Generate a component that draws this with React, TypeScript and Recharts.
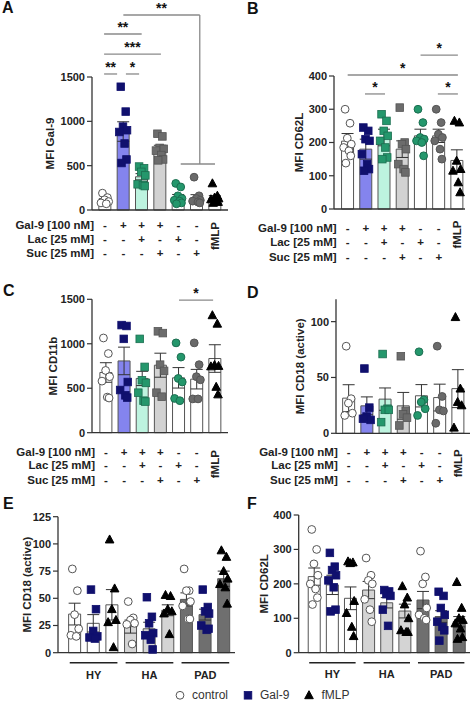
import React from "react";
import { Bar, Cell, ComposedChart, ErrorBar, ReferenceLine, Scatter, XAxis, YAxis } from "recharts";

const FONT = '"Liberation Sans", Arial, Helvetica, sans-serif';
const INK = "#222";

// treatment table under panels A-D
const rowLabels = ["Gal-9 [100 nM]", "Lac [25 mM]", "Suc [25 mM]"];
const gal9Signs = ["-", "+", "+", "+", "-", "-"];
const lacSigns = ["-", "-", "+", "-", "+", "-"];
const sucSigns = ["-", "-", "-", "+", "-", "+"];
const fmlpLabel = "fMLP";
const treatmentTicks = [1, 2, 3, 4, 5, 6, 7];

// A - MFI Gal-9
const gal9Means = [105, 885, 375, 690, 140, 135, 135];
const gal9Sems = [22, 110, 35, 40, 35, 38, 28];
const gal9Points = [
  [190, 140, 115, 95, 80, 70],
  [1390, 1110, 940, 900, 880, 750, 570, 530],
  [490, 470, 430, 390, 290, 280, 270],
  [860, 830, 700, 690, 670, 620, 570, 560],
  [300, 260, 160, 130, 110, 100, 80, 70],
  [370, 160, 130, 110, 100, 90, 80],
  [300, 160, 140, 130, 120, 100, 90, 80],
];
const gal9Stats = [
  { x1: 0.95, x2: 1.66, y1: 1534, y2: 1534, text: "**" },
  { x1: 2.14, x2: 2.86, y1: 1534, y2: 1534, text: "*" },
  { x1: 0.95, x2: 4.05, y1: 1759, y2: 1759, text: "***" },
  { x1: 0.95, x2: 3.0, y1: 1985, y2: 1985, text: "**" },
  { x1: 2.0, x2: 6.17, y1: 2199, y2: 2199, text: "**" },
  { x1: 6.17, x2: 6.17, y1: 2199, y2: 519 },
  { x1: 5.13, x2: 7.0, y1: 519, y2: 519 },
];

// B - MFI CD62L
const cd62lMeans = [204, 180, 215, 180, 220, 220, 146];
const cd62lSems = [23, 30, 25, 25, 20, 20, 32];
const cd62lPoints = [
  [300, 258, 213, 195, 185, 175, 160, 138],
  [245, 235, 210, 205, 165, 135, 120, 115],
  [285, 265, 235, 220, 205, 185, 155, 150],
  [305, 200, 195, 180, 135, 120, 110],
  [300, 260, 215, 210, 205, 200, 160],
  [300, 260, 225, 215, 205, 180, 150],
  [265, 260, 145, 120, 115, 80, 50],
];
const cd62lStats = [
  { x1: 5.0, x2: 7.05, y1: 463, y2: 463, text: "*" },
  { x1: 1.0, x2: 7.05, y1: 403, y2: 403, text: "*" },
  { x1: 1.95, x2: 3.05, y1: 346, y2: 346, text: "*" },
  { x1: 5.95, x2: 7.05, y1: 346, y2: 346, text: "*" },
];

// C - MFI CD11b
const cd11bMeans = [677, 807, 610, 759, 617, 602, 834];
const cd11bSems = [110, 155, 80, 135, 115, 110, 155];
const cd11bPoints = [
  [1065, 890, 700, 630, 580, 400, 390],
  [1210, 1200, 1055, 570, 480, 420, 395],
  [1055, 740, 590, 560, 450, 360, 350],
  [1140, 1120, 765, 695, 450, 405],
  [1010, 850, 610, 570, 385, 360],
  [1010, 765, 630, 595, 380, 380],
  [1320, 1225, 760, 750, 745, 515, 430],
];
const cd11bStats = [{ x1: 5.02, x2: 6.9, y1: 1490, y2: 1490, text: "*" }];

// D - MFI CD18 (active)
const cd18Means = [31.5, 24.6, 30.6, 24.6, 33.6, 32, 40];
const cd18Sems = [12, 8, 10, 12, 10, 12, 17];
const cd18Points = [
  [78, 31, 27, 18, 16],
  [58, 23, 15, 12, 13],
  [71, 22, 21, 21, 10],
  [69, 20, 17, 14, 7],
  [73, 30, 28, 22, 16],
  [78, 33, 21, 20, 9],
  [104, 40, 28, 25, 5],
];

// E, F - cohorts (control, Gal-9, fMLP within HY, HA, PAD)
const cohortGroups = ["HY", "HA", "PAD"];
const cohortTicks = [2, 5, 8];
const legendLabels = ["control", "Gal-9", "fMLP"];

const cohortCd18Means = [35.5, 27, 44, 24, 22, 39, 49, 35, 68];
const cohortCd18Sems = [10, 8, 14, 6, 6, 5, 6, 5, 7];
const cohortCd18Points = [
  [77, 57, 35, 22, 16, 15],
  [58, 40, 20, 15, 14, 13],
  [104, 59, 40, 30, 28, 5],
  [47, 32, 30, 27, 26, 8],
  [51, 33, 27, 18, 16, 12, 3],
  [53, 52, 40, 38, 36, 17],
  [77, 57, 57, 47, 43, 31, 31],
  [58, 42, 38, 36, 25, 21, 22],
  [94, 88, 75, 68, 63, 60, 45],
];

const cohortCd62lMeans = [221, 197, 158, 182, 145, 121, 153, 105, 90];
const cohortCd62lSems = [25, 28, 33, 25, 15, 20, 25, 17, 15];
const cohortCd62lPoints = [
  [358, 300, 258, 225, 200, 185, 160, 140],
  [290, 250, 240, 225, 210, 190, 125, 120],
  [265, 262, 260, 150, 115, 75, 48],
  [275, 225, 210, 200, 155, 125, 90],
  [182, 178, 170, 165, 125, 78],
  [193, 160, 140, 100, 65, 60, 60],
  [295, 220, 200, 130, 110, 100, 95],
  [177, 165, 130, 110, 90, 75, 65, 35],
  [205, 130, 100, 95, 85, 70, 45, 40],
];

// styles
const JITTER = [-0.14, 0.13, -0.02, 0.2, -0.22, 0.07, 0.17, -0.1];

const openCircle = { shape: "circle", fill: "#fff", stroke: "#555" };
const navySquare = { shape: "square", fill: "#10106e", stroke: "#10106e" };
const blackTriangle = { shape: "triangle", fill: "#000", stroke: "#000" };

const treatmentFills = ["#fff", "#8484ee", "#bdf3df", "#d2d2d2", "#fff", "#fff", "#fff"];
const treatmentMarkers = [
  openCircle,
  navySquare,
  { shape: "square", fill: "#24976c", stroke: "#1b6e50" },
  { shape: "square", fill: "#6c6c6c", stroke: "#555" },
  { shape: "circle", fill: "#24976c", stroke: "#1b6e50" },
  { shape: "circle", fill: "#6a6a6a", stroke: "#555" },
  blackTriangle,
];
const cohortFills = ["#fff", "#fff", "#fff", "#d4d4d4", "#d4d4d4", "#d4d4d4", "#6f6f6f", "#6f6f6f", "#6f6f6f"];
const cohortMarkers = [openCircle, navySquare, blackTriangle, openCircle, navySquare, blackTriangle, openCircle, navySquare, blackTriangle];

function Marker({ cx, cy, shape, fill, stroke }: any) {
  if (cx == null || cy == null) return <g />;
  if (shape === "circle") return <circle cx={cx} cy={cy} r={3.9} fill={fill} stroke={stroke} strokeWidth={1} />;
  if (shape === "square") return <rect x={cx - 3.8} y={cy - 3.8} width={7.6} height={7.6} fill={fill} stroke={stroke} strokeWidth={0.8} />;
  return <polygon points={`${cx},${cy - 4.6} ${cx + 4.3},${cy + 3.4} ${cx - 4.3},${cy + 3.4}`} fill={fill} stroke={stroke} />;
}

const tableText = { fontSize: 11.5, fontWeight: "bold" as const, fill: INK, fontFamily: FONT };

function TreatmentTick({ x, y, payload, rowY, fmlpY }: any) {
  const i = payload.value - 1;
  if (i === 6) {
    return (
      <text x={x} y={y + fmlpY} transform={`rotate(-90 ${x} ${y + fmlpY})`} textAnchor="middle" dominantBaseline="central" {...tableText}>
        {fmlpLabel}
      </text>
    );
  }
  return (
    <g>
      {i === 0 &&
        rowLabels.map((l, r) => (
          <text key={"l" + r} x={x - 11} y={y + rowY[r]} textAnchor="end" dominantBaseline="central" {...tableText}>
            {l}
          </text>
        ))}
      {[gal9Signs, lacSigns, sucSigns].map((row, r) => (
        <text key={r} x={x} y={y + rowY[r]} textAnchor="middle" dominantBaseline="central" {...tableText}>
          {row[i]}
        </text>
      ))}
    </g>
  );
}

function GroupTick({ x, y, payload, labelY }: any) {
  const k = cohortTicks.indexOf(payload.value);
  return (
    <text x={x} y={y + labelY} textAnchor="middle" dominantBaseline="central" {...tableText} fontSize={11}>
      {cohortGroups[k]}
    </text>
  );
}

const groupLines = (yv: number) => cohortTicks.map((c) => ({ x1: c - 1.28, x2: c + 1.28, y1: yv, y2: yv }));

function Panel(p: any) {
  const margin = { top: p.plotTop - p.top, right: p.left + p.width - p.axisEnd, bottom: 0, left: 0 };
  const xAxisH = p.top + p.height - p.plotBottom;
  const barData = p.means.map((m: number, i: number) => ({ x: i + 1, mean: m, sem: p.sems[i] }));
  const axisLine = { stroke: "#333", strokeWidth: 1.3 };
  return (
    <div style={{ position: "absolute", left: p.left, top: p.top }}>
      <ComposedChart width={p.width} height={p.height} data={barData} margin={margin}>
        <XAxis
          xAxisId="bars"
          type="number"
          dataKey="x"
          domain={p.xDomain}
          ticks={p.xTicks}
          interval={0}
          height={xAxisH}
          tickLine={false}
          tickSize={0}
          tickMargin={0}
          axisLine={axisLine}
          tick={p.tick}
        />
        <XAxis xAxisId="pts" type="number" dataKey="x" domain={p.xDomain} hide />
        <YAxis
          type="number"
          domain={p.yDomain}
          ticks={p.yTicks}
          interval={0}
          width={p.axisX - p.left}
          tickSize={5}
          tickMargin={2}
          axisLine={axisLine}
          tickLine={{ stroke: "#333", strokeWidth: 1.2 }}
          tick={{ fontSize: 11, fontWeight: "bold", fill: INK, fontFamily: FONT }}
          label={{
            value: p.yLabel,
            angle: -90,
            position: "insideLeft",
            offset: p.labelX - p.left,
            style: { textAnchor: "middle", fontSize: 11.5, fontWeight: "bold", fill: INK, fontFamily: FONT },
          }}
        />
        <Bar xAxisId="bars" dataKey="mean" barSize={12} stroke="#555" strokeWidth={1} isAnimationActive={false}>
          {p.means.map((_: number, i: number) => (
            <Cell key={i} fill={p.fills[i]} />
          ))}
          <ErrorBar dataKey="sem" direction="y" width={6} stroke="#333" strokeWidth={1} />
        </Bar>
        {p.points.map((vals: number[], i: number) => (
          <Scatter
            key={i}
            xAxisId="pts"
            dataKey="y"
            data={vals.map((v, j) => ({ x: i + 1 + JITTER[j % JITTER.length], y: v }))}
            shape={(s: any) => <Marker cx={s.cx} cy={s.cy} {...p.markers[i]} />}
            isAnimationActive={false}
          />
        ))}
        {(p.stats || []).map((s: any, k: number) => (
          <ReferenceLine
            key={"s" + k}
            xAxisId="bars"
            segment={[{ x: s.x1, y: s.y1 }, { x: s.x2, y: s.y2 }]}
            ifOverflow="visible"
            stroke="#8a8a8a"
            strokeWidth={1.3}
            label={s.text ? { value: s.text, position: "top", offset: 2, fill: "#111", fontSize: 14, fontWeight: "bold", fontFamily: FONT } : undefined}
          />
        ))}
        {(p.groups || []).map((s: any, k: number) => (
          <ReferenceLine
            key={"g" + k}
            xAxisId="bars"
            segment={[{ x: s.x1, y: s.y1 }, { x: s.x2, y: s.y2 }]}
            ifOverflow="visible"
            stroke="#222"
            strokeWidth={1.5}
          />
        ))}
      </ComposedChart>
    </div>
  );
}

const letterStyle = (left: number, top: number): React.CSSProperties => ({
  position: "absolute",
  left,
  top,
  fontSize: 16,
  lineHeight: "16px",
  fontWeight: "bold",
  fontFamily: FONT,
  color: "#111",
});

function LegendSymbol({ m }: any) {
  return (
    <svg width={10} height={10} style={{ marginRight: 7 }}>
      <Marker cx={5} cy={5.3} {...m} />
    </svg>
  );
}

export default function App() {
  const legendMarkers = [openCircle, navySquare, blackTriangle];
  return (
    <div style={{ position: "absolute", left: 0, top: 0, width: 474, height: 701, background: "#fff", fontFamily: FONT }}>
      <Panel
        left={0} top={0} width={237} height={270}
        axisX={92} axisEnd={228} plotTop={77} plotBottom={210}
        xDomain={[0.29, 7.71]} xTicks={treatmentTicks}
        yDomain={[0, 1500]} yTicks={[0, 500, 1000, 1500]}
        yLabel="MFI Gal-9" labelX={50}
        means={gal9Means} sems={gal9Sems} points={gal9Points}
        fills={treatmentFills} markers={treatmentMarkers} stats={gal9Stats}
        tick={(t: any) => <TreatmentTick {...t} rowY={[15, 29, 43]} fmlpY={26} />}
      />
      <Panel
        left={237} top={0} width={237} height={270}
        axisX={334} axisEnd={465} plotTop={76} plotBottom={209}
        xDomain={[0.25, 7.44]} xTicks={treatmentTicks}
        yDomain={[0, 400]} yTicks={[0, 100, 200, 300, 400]}
        yLabel="MFI CD62L" labelX={298.7}
        means={cd62lMeans} sems={cd62lSems} points={cd62lPoints}
        fills={treatmentFills} markers={treatmentMarkers} stats={cd62lStats}
        tick={(t: any) => <TreatmentTick {...t} rowY={[19, 33, 47.5]} fmlpY={25.5} />}
      />
      <Panel
        left={0} top={275} width={237} height={215}
        axisX={92} axisEnd={228} plotTop={299.3} plotBottom={432.7}
        xDomain={[0.23, 7.72]} xTicks={treatmentTicks}
        yDomain={[0, 1500]} yTicks={[0, 500, 1000, 1500]}
        yLabel="MFI CD11b" labelX={53}
        means={cd11bMeans} sems={cd11bSems} points={cd11bPoints}
        fills={treatmentFills} markers={treatmentMarkers} stats={cd11bStats}
        tick={(t: any) => <TreatmentTick {...t} rowY={[19, 32.5, 47]} fmlpY={31.5} />}
      />
      <Panel
        left={237} top={275} width={237} height={215}
        axisX={336} axisEnd={470} plotTop={299.3} plotBottom={433.3}
        xDomain={[0.3, 7.66]} xTicks={treatmentTicks}
        yDomain={[0, 120]} yTicks={[0, 50, 100]}
        yLabel="MFI CD18 (active)" labelX={300}
        means={cd18Means} sems={cd18Sems} points={cd18Points}
        fills={treatmentFills} markers={treatmentMarkers}
        tick={(t: any) => <TreatmentTick {...t} rowY={[18.5, 32, 47]} fmlpY={30} />}
      />
      <Panel
        left={0} top={495} width={237} height={190}
        axisX={58} axisEnd={235} plotTop={516.7} plotBottom={652.7}
        xDomain={[0.09, 9.59]} xTicks={cohortTicks}
        yDomain={[0, 125]} yTicks={[0, 25, 50, 75, 100, 125]}
        yLabel="MFI CD18 (active)" labelX={27}
        means={cohortCd18Means} sems={cohortCd18Sems} points={cohortCd18Points}
        fills={cohortFills} markers={cohortMarkers} groups={groupLines(-9.2)}
        tick={(t: any) => <GroupTick {...t} labelY={22.3} />}
      />
      <Panel
        left={237} top={495} width={237} height={190}
        axisX={298.7} axisEnd={470} plotTop={515} plotBottom={652.7}
        xDomain={[0.14, 9.59]} xTicks={cohortTicks}
        yDomain={[0, 400]} yTicks={[0, 100, 200, 300, 400]}
        yLabel="MFI CD62L" labelX={263.7}
        means={cohortCd62lMeans} sems={cohortCd62lSems} points={cohortCd62lPoints}
        fills={cohortFills} markers={cohortMarkers} groups={groupLines(-29)}
        tick={(t: any) => <GroupTick {...t} labelY={21.3} />}
      />

      <div style={letterStyle(2, 0)}>A</div>
      <div style={letterStyle(247, 1)}>B</div>
      <div style={letterStyle(3, 283)}>C</div>
      <div style={letterStyle(247, 285)}>D</div>
      <div style={letterStyle(3, 496)}>E</div>
      <div style={letterStyle(247, 496)}>F</div>

      <div style={{ position: "absolute", left: 175, top: 688, display: "flex", alignItems: "center", fontSize: 12, color: "#333", lineHeight: "14px" }}>
        {legendLabels.map((l, i) => (
          <div key={l} style={{ display: "flex", alignItems: "center", marginRight: 15 }}>
            <LegendSymbol m={legendMarkers[i]} />
            <span>{l}</span>
          </div>
        ))}
      </div>
    </div>
  );
}
